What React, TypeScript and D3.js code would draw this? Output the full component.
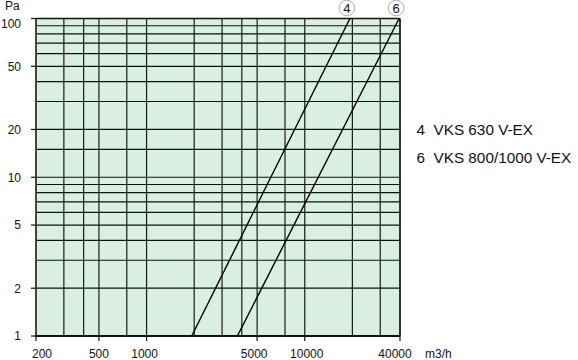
import React from "react";
import * as d3 from "d3";

const xGrid = [200, 300, 400, 500, 750, 1000, 2000, 3000, 4000, 5000, 7500, 10000, 20000, 30000, 40000];
const yGrid = [1, 2, 3, 4, 5, 6, 7, 8, 9, 10, 15, 20, 30, 40, 50, 60, 70, 80, 90, 100];
const xTickLabels = [200, 500, 1000, 5000, 10000, 40000];
const yTickLabels = [1, 2, 5, 10, 20, 50, 100];

const seriesIds = ["4", "6"];
const seriesNames = ["VKS 630 V-EX", "VKS 800/1000 V-EX"];
const curve4Flow = [1930, 19300];
const curve6Flow = [3750, 39500];
const curvePressure = [1, 100];

const W = 578;
const H = 360;
const FONT = "'Liberation Sans', Arial, Helvetica, sans-serif";

export default function App() {
  const x = d3.scaleLog().domain([200, 40000]).range([36, 400]);
  const y = d3.scaleLog().domain([1, 100]).range([336, 18.5]);
  const [x0, x1] = x.range();
  const [y0, y1] = y.range();

  const curves = [curve4Flow, curve6Flow].map((flows) =>
    flows.map((q, i) => [q, curvePressure[i]] as [number, number])
  );
  const line = d3
    .line<[number, number]>()
    .x((d) => x(d[0]))
    .y((d) => y(d[1]));

  const xLabelX = (v: number) => {
    if (v === 200) return x(v) + 6;
    if (v === 40000) return x(v) - 5;
    if (v === 5000) return x(v) - 3;
    if (v === 10000) return x(v) + 2;
    if (v === 1000) return x(v) - 2;
    return x(v);
  };

  return (
    <svg
      width={W}
      height={H}
      style={{ position: "absolute", left: 0, top: 0, background: "#fff" }}
      fontFamily={FONT}
    >
      <rect x={x0} y={y1} width={x1 - x0} height={y0 - y1} fill="#d8efe1" />
      {yGrid.map((v) => (
        <line key={"y" + v} x1={x0} x2={x1} y1={y(v)} y2={y(v)} stroke="#111" strokeWidth={1.2} />
      ))}
      {xGrid.map((v) => (
        <line key={"x" + v} x1={x(v)} x2={x(v)} y1={y1} y2={y0} stroke="#1a1a1a" strokeWidth={1.2} />
      ))}
      {/* frame */}
      <line x1={x0} x2={x0} y1={y1} y2={y0 + 1} stroke="#444" strokeWidth={2} />
      <line x1={x0} x2={x1} y1={y0} y2={y0} stroke="#111" strokeWidth={2} />
      <line x1={x0} x2={x1} y1={y1} y2={y1} stroke="#111" strokeWidth={1.3} />
      <line x1={x1} x2={x1} y1={y1} y2={y0} stroke="#111" strokeWidth={1.3} />

      {/* y ticks */}
      {yTickLabels.map((v) => (
        <g key={"yt" + v}>
          <line x1={31} x2={x0} y1={y(v)} y2={y(v)} stroke="#111" strokeWidth={1.2} />
          <text
            x={21}
            y={(v === 100 ? y(v) + 5 : y(v)) + 4.3}
            textAnchor="end"
            fontSize={12}
            fill="#111"
          >
            {v}
          </text>
        </g>
      ))}
      <text x={5} y={9.5} fontSize={12} fill="#111">
        Pa
      </text>

      {/* x ticks */}
      {xTickLabels.map((v) => (
        <g key={"xt" + v}>
          <line x1={x(v)} x2={x(v)} y1={y0} y2={y0 + 5} stroke="#111" strokeWidth={1.2} />
          <text x={xLabelX(v)} y={357.5} textAnchor="middle" fontSize={12} fill="#111">
            {v}
          </text>
        </g>
      ))}
      <text x={425} y={357.5} fontSize={12} fill="#111">
        m3/h
      </text>

      {/* curves */}
      {curves.map((c, i) => (
        <path key={"c" + i} d={line(c) || ""} fill="none" stroke="#000" strokeWidth={1.4} />
      ))}
      {curves.map((c, i) => {
        const top = c[c.length - 1];
        const cx = x(top[0]) - 3;
        return (
          <g key={"lab" + i}>
            <circle cx={cx} cy={8} r={7.8} fill="#fff" stroke="#999" strokeWidth={0.8} />
            <text x={cx} y={12.6} textAnchor="middle" fontSize={13} fill="#111">
              {seriesIds[i]}
            </text>
          </g>
        );
      })}

      {/* legend */}
      {seriesIds.map((id, i) => (
        <text
          key={"lg" + id}
          x={416.5}
          y={134.5 + i * 28.5}
          fontSize={15.3}
          fill="#111"
          style={{ whiteSpace: "pre" }}
        >
          {id + "  " + seriesNames[i]}
        </text>
      ))}
    </svg>
  );
}
